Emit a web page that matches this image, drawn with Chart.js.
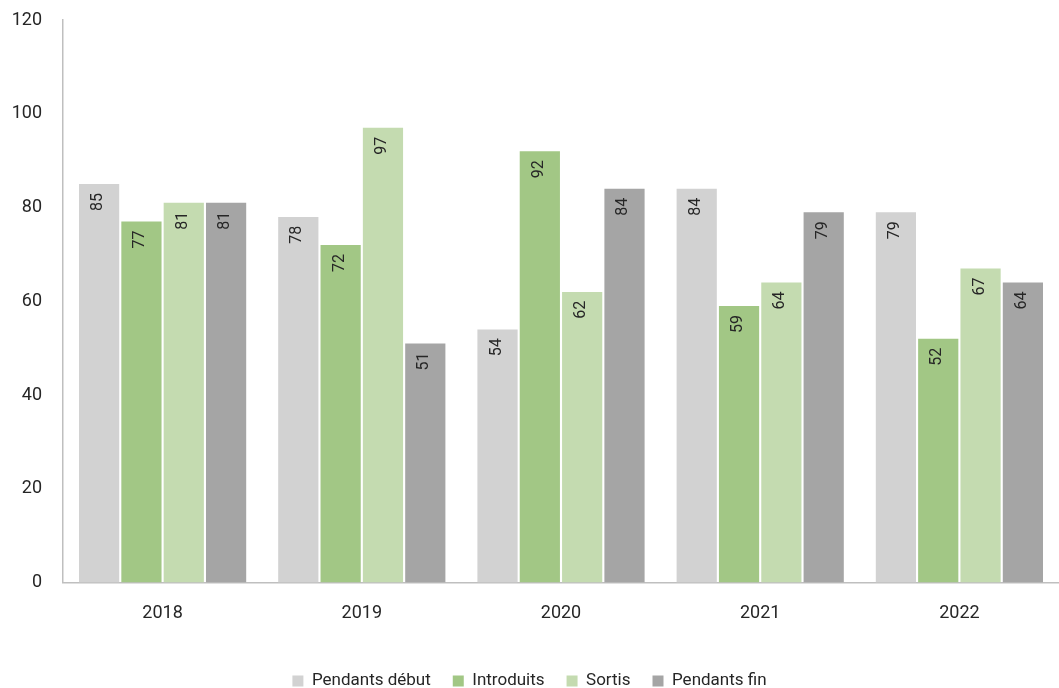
<!DOCTYPE html>
<html>
<head>
<meta charset="utf-8">
<script src="https://cdn.jsdelivr.net/npm/chart.js@4"></script>
<style>
  html, body { margin: 0; padding: 0; background: #fff; }
  #wrap { width: 1059px; height: 688px; }
</style>
</head>
<body>
<div id="wrap"><canvas id="barChart"></canvas></div>
<script>
var years = ["2018", "2019", "2020", "2021", "2022"];
var pendantsDebut = [85, 78, 54, 84, 79];
var introduits = [77, 72, 92, 59, 52];
var sortis = [81, 97, 62, 64, 67];
var pendantsFin = [81, 51, 84, 79, 64];
var yTicks = [0, 20, 40, 60, 80, 100, 120];

var LEGEND_PAD = 22;
var LEGEND_FONT = 17;

// rotated value labels at the top of each bar
var barLabels = {
  id: "barLabels",
  afterDatasetsDraw: function (chart) {
    var ctx = chart.ctx;
    ctx.save();
    ctx.font = "16px Roboto";
    ctx.fillStyle = "#262626";
    ctx.textAlign = "right";
    ctx.textBaseline = "middle";
    chart.data.datasets.forEach(function (ds, i) {
      chart.getDatasetMeta(i).data.forEach(function (bar, j) {
        ctx.save();
        ctx.translate(bar.x - 1, bar.y + 9);
        ctx.rotate(-Math.PI / 2);
        ctx.fillText(ds.data[j], 0, 0);
        ctx.restore();
      });
    });
    ctx.restore();
  },
};

// the legend padding also sets the gap between items, so move the row down afterwards
var legendShift = {
  id: "legendShift",
  beforeDraw: function (chart) {
    var lg = chart.legend;
    var h = lg.bottom - lg.top;
    lg.top = 681 - LEGEND_PAD - LEGEND_FONT / 2;
    lg.bottom = lg.top + h;
  },
};

var ctx = document.getElementById("barChart").getContext("2d");
var chart = new Chart(ctx, {
  type: "bar",
  data: {
    labels: years,
    datasets: [
      { label: "Pendants début", data: pendantsDebut, backgroundColor: "#d2d2d2" },
      { label: "Introduits", data: introduits, backgroundColor: "#a2c785" },
      { label: "Sortis", data: sortis, backgroundColor: "#c4dbb0" },
      { label: "Pendants fin", data: pendantsFin, backgroundColor: "#a5a5a5" },
    ],
  },
  options: {
    responsive: true,
    maintainAspectRatio: false,
    animation: false,
    datasets: {
      bar: { categoryPercentage: 0.85, barPercentage: 0.95 },
    },
    layout: { padding: 0 },
    plugins: {
      tooltip: { enabled: false },
      legend: {
        position: "bottom",
        labels: {
          color: "#262626",
          font: { family: "Roboto", size: LEGEND_FONT },
          boxWidth: 11,
          boxHeight: 11,
          padding: LEGEND_PAD,
        },
      },
    },
    scales: {
      x: {
        afterFit: function (scale) {
          var lg = scale.chart.legend;
          scale.height = 688 - 582.5 - (lg ? lg.height : 0);
        },
        grid: { display: false, drawTicks: false },
        border: { color: "#bfbfbf", width: 1.5 },
        ticks: { color: "#262626", font: { family: "Roboto", size: 18 }, padding: 20 },
      },
      y: {
        min: 0,
        max: 120,
        afterBuildTicks: function (scale) {
          scale.ticks = yTicks.map(function (v) { return { value: v }; });
        },
        afterFit: function (scale) {
          scale.width = 63;
          scale.paddingTop = 20;
          scale.paddingBottom = 10;
        },
        grid: { display: false, drawTicks: false },
        border: { color: "#bfbfbf", width: 1.5 },
        ticks: { color: "#262626", font: { family: "Roboto", size: 18 }, padding: 21 },
      },
    },
  },
  plugins: [barLabels, legendShift],
});
</script>
</body>
</html>
